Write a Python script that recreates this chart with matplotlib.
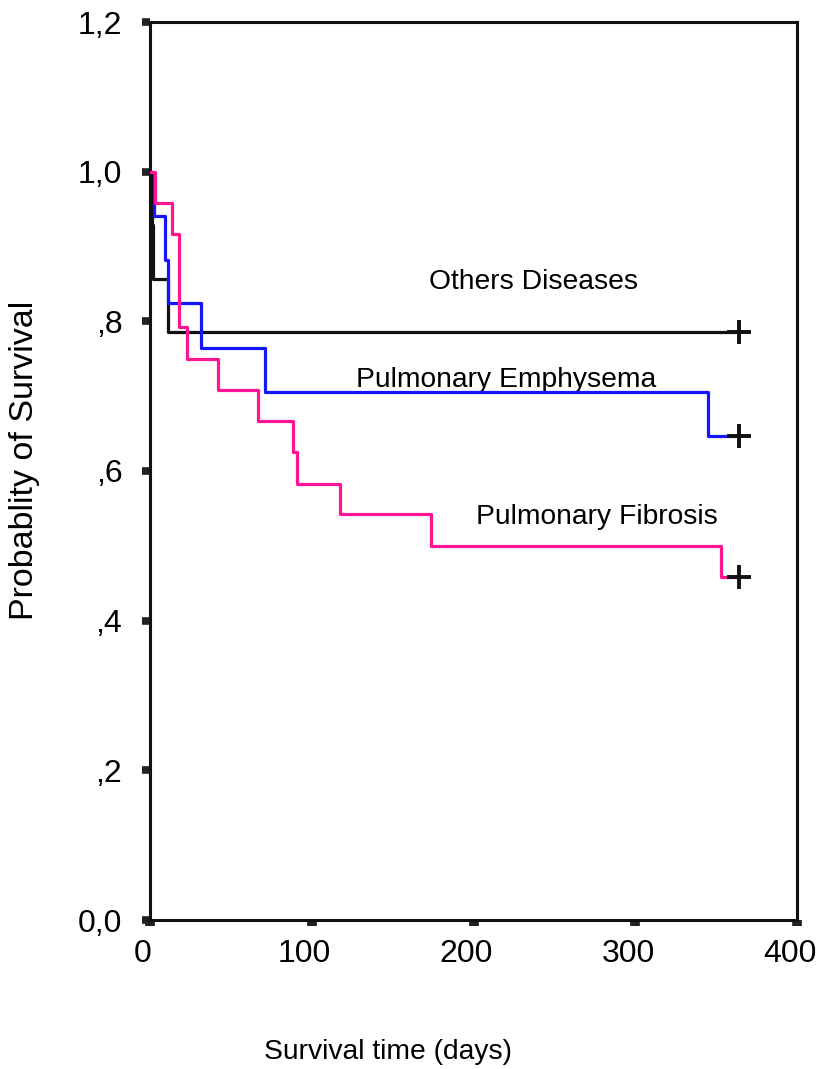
import numpy as np
import matplotlib.pyplot as plt
import matplotlib.transforms as mtransforms
from matplotlib.patches import Rectangle

plt.rcParams['font.family'] = ['Liberation Sans', 'DejaVu Sans']

# Kaplan-Meier steps (days, survival)
others_t = [0, 1, 2, 11, 364]
others_s = [1.0, 0.929, 0.857, 0.786, 0.786]

emph_t = [0, 2.5, 9.3, 11, 31.5, 71, 345, 364]
emph_s = [1.0, 0.941, 0.882, 0.824, 0.765, 0.706, 0.647, 0.647]

fib_t = [0, 3, 13.6, 18, 23, 42, 67, 88.4, 91, 117.5, 174, 353, 364]
fib_s = [1.0, 0.958, 0.917, 0.792, 0.75, 0.708, 0.667, 0.625, 0.583, 0.542, 0.5, 0.458, 0.458]

xticks = [0, 100, 200, 300, 400]
yticks = [0.0, 0.2, 0.4, 0.6, 0.8, 1.0, 1.2]
ytick_labels = ['0,0', ',2', ',4', ',6', ',8', '1,0', '1,2']

fig = plt.figure(figsize=(8.17, 10.69), dpi=100)
ax = fig.add_axes([150/817, 149/1069, 647/817, 898/1069])

ax.plot(others_t, others_s, drawstyle='steps-post', color='#111111', lw=2.3, zorder=3)
ax.plot(emph_t, emph_s, drawstyle='steps-post', color='#1414ff', lw=2.3, zorder=4)
ax.plot(fib_t, fib_s, drawstyle='steps-post', color='#ff1493', lw=2.3, zorder=5)

# censored cases at the end of follow-up
for t, s in [(others_t, others_s), (emph_t, emph_s), (fib_t, fib_s)]:
    ax.plot(t[-1], s[-1], marker='+', color='#111111', ms=17, mew=2.8, zorder=6)

ax.text(237, 0.852, 'Others Diseases', fontsize=20.3, ha='center', va='center')
emph_lbl = ax.text(220, 0.712, 'Pulmonary Emphysema', fontsize=20.3, ha='center',
                   va='baseline')
clip = Rectangle((150, 0.7135), 150, 0.1, transform=ax.transData)
emph_lbl.set_clip_path(clip)
ax.text(276, 0.538, 'Pulmonary Fibrosis', fontsize=20.3, ha='center', va='center')

ax.set_xlim(0, 400)
ax.set_ylim(0, 1.2)
ax.set_xticks(xticks)
ax.set_xticklabels([str(v) for v in xticks], fontsize=23)
ax.set_yticks(yticks)
ax.set_yticklabels(ytick_labels, fontsize=23)
ax.tick_params(axis='y', direction='out', length=6, width=5.5, color='#222222', pad=14)
ax.tick_params(axis='x', direction='out', length=4.5, width=7, color='#222222', pad=9)
shift = mtransforms.ScaledTranslation(-7/100, 0, fig.dpi_scale_trans)
for lbl in ax.get_xticklabels():
    lbl.set_transform(lbl.get_transform() + shift)
for sp in ax.spines.values():
    sp.set_linewidth(2.2)
    sp.set_color('#111111')

fig.text(388/817, 1 - 1052/1069, 'Survival time (days)', fontsize=20.3,
         ha='center', va='center')
fig.text(25/817, 1 - 460/1069, 'Probablity of Survival', fontsize=24.5,
         ha='center', va='center', rotation=90)

fig.savefig('out.png', dpi=100)
